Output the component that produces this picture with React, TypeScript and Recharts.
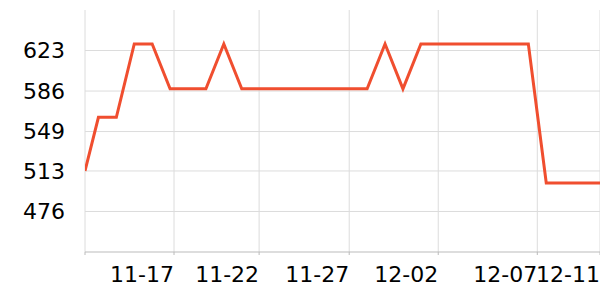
import { LineChart, Line, XAxis, YAxis, CartesianGrid, ReferenceLine } from 'recharts';

// day offsets from 11-13 (first sample is a partial day)
const days = [-0.75, 0, 1, 2, 3, 4, 5, 6, 7, 8, 9, 10, 11, 12, 13, 14, 15, 16, 17, 18, 19, 20, 21, 22, 23, 24, 25, 26, 27, 28];
const values = [513, 562, 562, 629, 629, 588, 588, 588, 629, 588, 588, 588, 588, 588, 588, 588, 588, 629, 588, 629, 629, 629, 629, 629, 629, 629, 502, 502, 502, 502];

const xTicks = [-0.75, 4.22, 8.97, 14, 18.97, 24.5, 28];
const xLabels = ['', '11-17', '11-22', '11-27', '12-02', '12-07', '12-11'];
const yTicks = [476, 513, 549, 586, 623];

const data = days.map((d, i) => ({ day: d, value: values[i] }));

const FONT = '"DejaVu Sans", sans-serif';

function XTick(props: any) {
  const { x, y, payload } = props;
  const idx = xTicks.indexOf(payload.value);
  return (
    <text x={x} y={y} dy="0.71em" textAnchor="end" fill="#000" fontSize={22} fontFamily={FONT}>
      {idx >= 0 ? xLabels[idx] : ''}
    </text>
  );
}

export default function App() {
  return (
    <div style={{ position: 'absolute', left: 0, top: 0, width: 600, height: 300, background: '#fff' }}>
      <LineChart width={600} height={300} data={data} margin={{ top: 10, right: 0, bottom: 0, left: 0 }}>
        <CartesianGrid stroke="#dcdcdc" strokeWidth={1} vertical horizontal={false} />
        {yTicks.map((t) => (
          <ReferenceLine key={t} y={t} stroke="#dcdcdc" strokeWidth={1} />
        ))}
        <XAxis
          dataKey="day"
          type="number"
          domain={[-0.75, 28]}
          ticks={xTicks}
          interval={0}
          allowDataOverflow
          stroke="#bbbbbb"
          tickSize={3}
          tickMargin={11}
          height={48}
          tick={<XTick />}
        />
        <YAxis
          type="number"
          domain={[439, 660]}
          ticks={yTicks}
          interval={0}
          allowDataOverflow
          axisLine={false}
          tickLine={false}
          tickSize={0}
          tickMargin={20}
          width={85}
          tick={{ fill: '#000', fontSize: 22, fontFamily: FONT }}
        />
        <Line
          type="linear"
          dataKey="value"
          stroke="#f04e2f"
          strokeWidth={3}
          dot={false}
          isAnimationActive={false}
        />
      </LineChart>
    </div>
  );
}
